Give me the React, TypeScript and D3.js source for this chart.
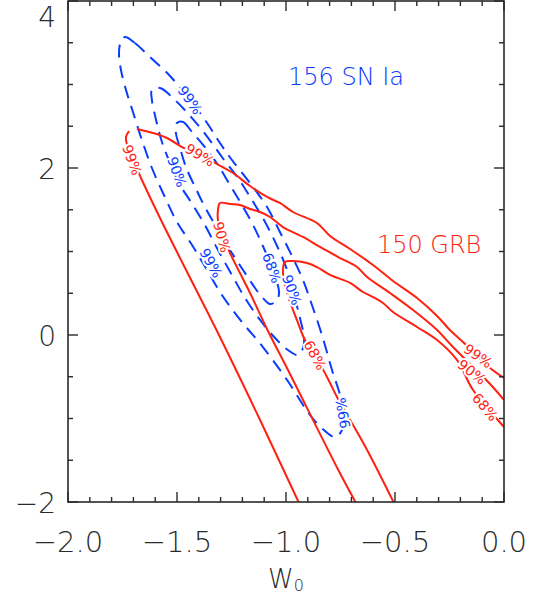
import React from "react";
import * as d3 from "d3";

const W = 542;
const H = 596;
const M = { left: 68, right: 38, top: 1, bottom: 94 };

const xDomain: [number, number] = [-2, 0];
const yDomain: [number, number] = [-2, 4];
const xMajorTicks = [-2.0, -1.5, -1.0, -0.5, 0.0];
const xTickLabels = ["\u22122.0", "\u22121.5", "\u22121.0", "\u22120.5", "0.0"];
const yMajorTicks = [-2, 0, 2, 4];
const yTickLabels = ["\u22122", "0", "2", "4"];

// SN Ia contours (blue, dashed, closed)
const sn99: [number, number][] = [
  [-1.739, 3.569], [-1.693, 3.497], [-1.624, 3.329], [-1.532, 3.102], [-1.44, 2.814],
  [-1.362, 2.539], [-1.303, 2.299], [-1.248, 2.096], [-1.165, 1.82], [-1.087, 1.533],
  [-1.028, 1.234], [-0.968, 0.922], [-0.922, 0.659], [-0.881, 0.359], [-0.835, 0.0],
  [-0.789, -0.419], [-0.752, -0.719], [-0.734, -0.958], [-0.743, -1.138], [-0.775, -1.222],
  [-0.826, -1.138], [-0.89, -0.958], [-0.995, -0.539], [-1.106, -0.144], [-1.202, 0.156],
  [-1.294, 0.479], [-1.362, 0.778], [-1.431, 1.078], [-1.5, 1.353], [-1.56, 1.677],
  [-1.615, 2.0], [-1.661, 2.335], [-1.702, 2.671], [-1.734, 2.934], [-1.757, 3.174],
  [-1.766, 3.353], [-1.761, 3.485],
];
const sn90: [number, number][] = [
  [-1.615, 2.934], [-1.578, 2.958], [-1.509, 2.814], [-1.44, 2.623], [-1.367, 2.395],
  [-1.294, 2.132], [-1.22, 1.88], [-1.156, 1.617], [-1.096, 1.353], [-1.041, 1.066],
  [-0.995, 0.778], [-0.963, 0.479], [-0.936, 0.204], [-0.917, -0.036], [-0.922, -0.156],
  [-0.945, -0.24], [-0.991, -0.18], [-1.05, -0.036], [-1.119, 0.18], [-1.188, 0.443],
  [-1.248, 0.719], [-1.312, 1.018], [-1.372, 1.317], [-1.427, 1.557], [-1.486, 1.796],
  [-1.532, 2.06], [-1.569, 2.311], [-1.596, 2.575], [-1.615, 2.814],
];
const sn68: [number, number][] = [
  [-1.5, 2.539], [-1.472, 2.551], [-1.431, 2.431], [-1.372, 2.251], [-1.312, 2.036],
  [-1.257, 1.796], [-1.202, 1.557], [-1.151, 1.317], [-1.106, 1.066], [-1.069, 0.838],
  [-1.041, 0.635], [-1.032, 0.491], [-1.046, 0.407], [-1.073, 0.371], [-1.106, 0.443],
  [-1.142, 0.563], [-1.197, 0.778], [-1.257, 1.018], [-1.317, 1.281], [-1.372, 1.533],
  [-1.417, 1.772], [-1.459, 2.012], [-1.486, 2.24], [-1.505, 2.419],
];

// GRB contours (red, solid, open)
const grb99a: [number, number][] = [
  [-0.936, -2.036], [-1.119, -1.018], [-1.303, -0.024], [-1.463, 0.802], [-1.578, 1.401],
  [-1.661, 1.856], [-1.702, 2.096], [-1.729, 2.275], [-1.734, 2.371], [-1.72, 2.443],
];
const grb99b: [number, number][] = [
  [-1.684, 2.467], [-1.61, 2.419], [-1.546, 2.359], [-1.477, 2.251], [-1.408, 2.168],
  [-1.326, 2.06], [-1.243, 1.94], [-1.165, 1.784], [-1.087, 1.653], [-1.028, 1.581],
  [-0.968, 1.473], [-0.858, 1.341], [-0.798, 1.186], [-0.706, 1.03], [-0.601, 0.838],
  [-0.509, 0.647], [-0.399, 0.443], [-0.307, 0.228], [-0.248, 0.06], [-0.188, -0.084],
  [-0.064, -0.395], [0.0, -0.515],
];
const grb90: [number, number][] = [
  [-0.674, -2.036], [-0.76, -1.617], [-0.991, -0.419], [-1.078, 0.024], [-1.165, 0.503],
  [-1.257, 0.982], [-1.289, 1.174], [-1.312, 1.377], [-1.312, 1.497], [-1.303, 1.581],
  [-1.257, 1.569], [-1.211, 1.557], [-1.165, 1.509], [-1.119, 1.473], [-1.073, 1.413],
  [-1.014, 1.293], [-0.922, 1.174], [-0.844, 1.054], [-0.752, 0.922], [-0.674, 0.814],
  [-0.628, 0.695], [-0.523, 0.503], [-0.417, 0.299], [-0.307, 0.06], [-0.234, -0.144],
  [-0.064, -0.587], [0.0, -0.778],
];
const grb68: [number, number][] = [
  [-0.5, -2.036], [-0.628, -1.377], [-0.706, -1.018], [-0.752, -0.814], [-0.812, -0.503],
  [-0.867, -0.24], [-0.913, -0.06], [-0.95, 0.18], [-0.995, 0.503], [-1.014, 0.743],
  [-1.005, 0.874], [-0.968, 0.886], [-0.904, 0.862], [-0.858, 0.814], [-0.798, 0.719],
  [-0.706, 0.623], [-0.647, 0.515], [-0.601, 0.455], [-0.555, 0.383], [-0.509, 0.275],
  [-0.399, 0.096], [-0.307, -0.06], [-0.216, -0.299], [-0.142, -0.659], [-0.028, -1.018],
  [0.0, -1.102],
];

// contour labels: text, x, y, angle
const snLabelText = ["99%", "90%", "99%", "68%", "90%", "99%"];
const snLabelX = [-1.44, -1.5, -1.344, -1.064, -0.973, -0.739];
const snLabelY = [2.814, 1.952, 0.862, 0.802, 0.539, -0.934];
const snLabelAngle = [55, 70, 60, 70, 70, -100];

const grbLabelText = ["99%", "99%", "90%", "68%", "99%", "90%", "68%"];
const grbLabelX = [-1.706, -1.395, -1.294, -0.867, -0.119, -0.147, -0.087];
const grbLabelY = [2.096, 2.156, 1.174, -0.24, -0.251, -0.443, -0.862];
const grbLabelAngle = [70, 30, 75, 62, 35, 38, 50];

const BLUE = "#0a3cff";
const RED = "#ff2010";
const AXIS = "#2a2a2a";
const FONT = "'DejaVu Sans', 'Liberation Sans', sans-serif";

export default function App() {
  React.useEffect(() => {
    document.body.style.margin = "0";
  }, []);
  const x = d3.scaleLinear().domain(xDomain).range([M.left, W - M.right]);
  const y = d3.scaleLinear().domain(yDomain).range([H - M.bottom, M.top]);

  const closedLine = d3
    .line<[number, number]>()
    .x((d) => x(d[0]))
    .y((d) => y(d[1]))
    .curve(d3.curveCatmullRomClosed.alpha(0.5));
  const openLine = d3
    .line<[number, number]>()
    .x((d) => x(d[0]))
    .y((d) => y(d[1]))
    .curve(d3.curveCatmullRom.alpha(0.5));

  const xMinor = d3.range(-2, 0.0001, 0.1);
  const yMinor = d3.range(-2, 4.0001, 0.5);
  const x0 = x(xDomain[0]);
  const x1 = x(xDomain[1]);
  const y0 = y(yDomain[0]);
  const y1 = y(yDomain[1]);

  const labelStyle = (color: string) => ({
    fill: color,
    fontSize: 14,
    fontFamily: FONT,
    stroke: "white",
    strokeWidth: 4,
    paintOrder: "stroke" as const,
  });

  return (
    <svg width={W} height={H} style={{ position: "absolute", left: 0, top: 0, background: "white" }}>
      <defs>
        <clipPath id="plot">
          <rect x={x0} y={y1} width={x1 - x0} height={y0 - y1} />
        </clipPath>
      </defs>
      <g clipPath="url(#plot)">
        {[sn99, sn90, sn68].map((c, i) => (
          <path key={"sn" + i} d={closedLine(c) || ""} fill="none" stroke={BLUE} strokeWidth={2} strokeDasharray="13 8" />
        ))}
        {[grb99a, grb99b, grb90, grb68].map((c, i) => (
          <path key={"grb" + i} d={openLine(c) || ""} fill="none" stroke={RED} strokeWidth={2} />
        ))}
        {snLabelText.map((t, i) => (
          <text
            key={"sl" + i}
            transform={`translate(${x(snLabelX[i])},${y(snLabelY[i])}) rotate(${snLabelAngle[i]})`}
            textAnchor="middle"
            dominantBaseline="central"
            style={labelStyle(BLUE)}
          >
            {t}
          </text>
        ))}
        {grbLabelText.map((t, i) => (
          <text
            key={"gl" + i}
            transform={`translate(${x(grbLabelX[i])},${y(grbLabelY[i])}) rotate(${grbLabelAngle[i]})`}
            textAnchor="middle"
            dominantBaseline="central"
            style={labelStyle(RED)}
          >
            {t}
          </text>
        ))}
      </g>
      <text x={x(-0.991)} y={y(2.994)} fill={BLUE} fontSize={24} fontFamily={FONT} fontWeight={200}>
        156 SN Ia
      </text>
      <text x={x(-0.583)} y={y(0.982)} fill={RED} fontSize={24} fontFamily={FONT} fontWeight={200}>
        150 GRB
      </text>
      {/* frame */}
      <rect x={x0} y={y1} width={x1 - x0} height={y0 - y1} fill="none" stroke={AXIS} strokeWidth={1.6} />
      {/* x ticks */}
      {xMinor.map((v, i) => {
        const major = Math.abs(Math.round(v * 2) - v * 2) < 1e-6;
        const len = major ? 10 : 5;
        return (
          <g key={"xt" + i} stroke={AXIS} strokeWidth={1.4}>
            <line x1={x(v)} x2={x(v)} y1={y0} y2={y0 - len} />
            <line x1={x(v)} x2={x(v)} y1={y1} y2={y1 + len} />
          </g>
        );
      })}
      {yMinor.map((v, i) => {
        const major = Math.abs(v / 2 - Math.round(v / 2)) < 1e-6;
        const len = major ? 10 : 5;
        return (
          <g key={"yt" + i} stroke={AXIS} strokeWidth={1.4}>
            <line x1={x0} x2={x0 + len} y1={y(v)} y2={y(v)} />
            <line x1={x1} x2={x1 - len} y1={y(v)} y2={y(v)} />
          </g>
        );
      })}
      {xMajorTicks.map((v, i) => (
        <text key={"xl" + i} x={x(v)} y={552} textAnchor="middle" fontSize={29} fontFamily={FONT} fontWeight={200} fill={AXIS}>
          {xTickLabels[i]}
        </text>
      ))}
      {yMajorTicks.map((v, i) => (
        <text
          key={"yl" + i}
          x={56}
          y={Math.max(y(v), 16) + 1}
          textAnchor="end"
          dominantBaseline="central"
          fontSize={28}
          fontFamily={FONT}
          fontWeight={200}
          fill={AXIS}
        >
          {yTickLabels[i]}
        </text>
      ))}
      <text x={286} y={588} textAnchor="middle" fontSize={26} fontFamily={FONT} fontWeight={200} fill={AXIS}>
        W<tspan fontSize={16} dy={3}>0</tspan>
      </text>
    </svg>
  );
}
